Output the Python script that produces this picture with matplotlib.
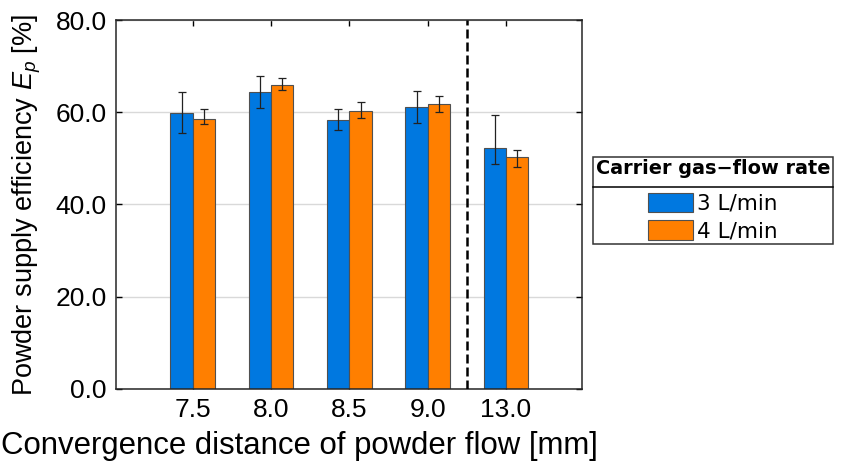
import numpy as np
import matplotlib
matplotlib.use("Agg")
import matplotlib.pyplot as plt
from matplotlib.lines import Line2D

plt.rcParams['font.family'] = ['Liberation Sans', 'DejaVu Sans']
plt.rcParams['mathtext.fontset'] = 'custom'
plt.rcParams['mathtext.rm'] = 'Liberation Sans'
plt.rcParams['mathtext.it'] = 'Liberation Sans:italic'

# data
categories = ['7.5', '8.0', '8.5', '9.0', '13.0']
series_names = ['3 L/min', '4 L/min']
eff_3 = [59.8, 64.4, 58.4, 61.2, 52.2]
err_3_low = [4.4, 3.4, 2.3, 3.6, 3.5]
err_3_high = [4.6, 3.4, 2.4, 3.3, 7.2]
eff_4 = [58.6, 66.0, 60.2, 61.7, 50.2]
err_4_low = [1.2, 1.1, 1.5, 1.7, 2.0]
err_4_high = [2.2, 1.4, 2.0, 1.9, 1.6]
y_ticks = [0, 20, 40, 60, 80]

blue = '#0078E0'
orange = '#FF7F00'

fig = plt.figure(figsize=(8.44, 4.61), dpi=100)
ax = fig.add_axes([0.1374, 0.1562, 0.5522, 0.8004])

x = np.arange(1, len(categories) + 1)
w = 0.285
ax.bar(x - w / 2, eff_3, w, color=blue, edgecolor='#505050', linewidth=0.8,
       label=series_names[0], zorder=2)
ax.bar(x + w / 2, eff_4, w, color=orange, edgecolor='#505050', linewidth=0.8,
       label=series_names[1], zorder=2)
ax.errorbar(x - w / 2, eff_3, yerr=[err_3_low, err_3_high], fmt='none',
            ecolor='#222222', elinewidth=0.9, capsize=3.2, capthick=0.9, zorder=3)
ax.errorbar(x + w / 2, eff_4, yerr=[err_4_low, err_4_high], fmt='none',
            ecolor='#222222', elinewidth=0.9, capsize=3.2, capthick=0.9, zorder=3)

# separator between regular distances and 13.0
ax.axvline(4.5, color='black', linewidth=1.8, linestyle=(0, (3.6, 1.6)), zorder=4)

ax.set_xlim(0.02, 5.97)
ax.set_ylim(0, 80)
ax.set_xticks(x)
ax.set_xticklabels(categories)
ax.set_yticks(y_ticks)
ax.set_yticklabels([f'{v:.1f}' for v in y_ticks])
ax.yaxis.grid(True, color='#d9d9d9', linewidth=1.0, zorder=0)
ax.set_axisbelow(True)
ax.tick_params(direction='in', top=True, right=True, length=4, width=1,
               labelsize=19, pad=6.5)
for s in ax.spines.values():
    s.set_linewidth(1.1)
    s.set_color('#262626')

ax.set_xlabel('Convergence distance of powder flow [mm]', fontsize=22.4)
ax.xaxis.set_label_coords(0.393, -0.113)
ax.set_ylabel('Powder supply efficiency $E_p$ [%]', fontsize=19.5, labelpad=9)

leg = ax.legend(title='Carrier gas\u2212flow rate', loc='upper left',
                bbox_to_anchor=(1.023, 0.63), frameon=True, fancybox=False,
                edgecolor='black', fontsize=15.5, handlelength=2.1,
                handleheight=1.0, handletextpad=0.15, labelspacing=0.3,
                borderpad=0.13, borderaxespad=0)
leg.get_title().set_fontweight('bold')
leg.get_title().set_fontsize(13.9)
leg.get_title().set_family(['DejaVu Sans'])
for t in leg.get_texts():
    t.set_family(['DejaVu Sans'])
leg.get_frame().set_linewidth(1.1)
for h in leg.legend_handles:
    h.set_edgecolor('#505050')
# a bit more room between the title row and the entries
leg._legend_box.sep = 10.5

# line under the legend title
fig.canvas.draw()
r = fig.canvas.get_renderer()
fb = leg.get_frame().get_window_extent(r)
tb = leg.get_title().get_window_extent(r)
hb = leg.legend_handles[0].get_window_extent(r)
yline = tb.y0 - 0.6 * (tb.y0 - hb.y1)
fig.add_artist(Line2D([fb.x0 / fig.bbox.width, fb.x1 / fig.bbox.width],
                      [yline / fig.bbox.height, yline / fig.bbox.height],
                      color='black', linewidth=1.1))

fig.savefig('out.png', dpi=100)
